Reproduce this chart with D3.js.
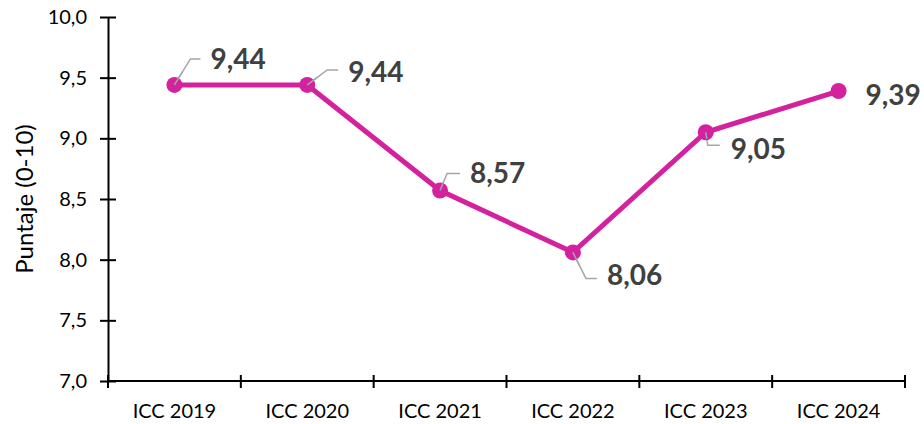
<!DOCTYPE html>
<html>
<head>
<meta charset="utf-8">
<script src="https://cdn.jsdelivr.net/npm/d3@7"></script>
<style>
  body { margin: 0; background: #fff; }
  svg { display: block; font-family: Lato, "Open Sans", sans-serif; }
</style>
</head>
<body>
<script>
var categories = ["ICC 2019", "ICC 2020", "ICC 2021", "ICC 2022", "ICC 2023", "ICC 2024"];
var values = [9.44, 9.44, 8.57, 8.06, 9.05, 9.39];
var yTicks = [7.0, 7.5, 8.0, 8.5, 9.0, 9.5, 10.0];

// label placement (dx, dy of text from point; leader elbow) - layout only
var labelPos = [
  { dx: 36, dy: -26, elbow: [16, -26], end: [26, -26] },
  { dx: 41, dy: -13, elbow: [20, -15], end: [31, -15] },
  { dx: 30, dy: -17, elbow: [7, -17], end: [20, -17] },
  { dx: 34, dy: 23, elbow: [13, 26], end: [24, 26] },
  { dx: 25, dy: 17, elbow: [2, 13], end: [14, 13] },
  { dx: 27, dy: 4, elbow: null, end: null }
];

var margin = { top: 17, right: 19, bottom: 43, left: 108 },
  width = 924 - margin.left - margin.right,
  height = 424 - margin.top - margin.bottom;

var svg = d3.select("body").append("svg")
  .attr("width", 924)
  .attr("height", 424)
  .append("g")
  .attr("transform", "translate(" + margin.left + "," + margin.top + ")");

var x = d3.scaleBand().domain(categories).range([0, width]);
var y = d3.scaleLinear().domain([7, 10]).range([height, 0]);

var fmt = function (v, n) { return v.toFixed(n).replace(".", ","); };

// y axis
var yAxis = svg.append("g")
  .call(d3.axisLeft(y).tickValues(yTicks).tickSizeInner(8).tickSizeOuter(0).tickPadding(13)
    .tickFormat(function (d) { return fmt(d, 1); }));
yAxis.select(".domain").attr("stroke", "#000").attr("stroke-width", 2);
yAxis.selectAll(".tick line").attr("x2", 8).attr("x1", -8).attr("stroke-width", 2);
yAxis.selectAll(".tick text").attr("font-size", 20).attr("fill", "#000")
  .attr("font-family", "Lato, sans-serif");

// x axis with ticks at category boundaries
var xg = svg.append("g").attr("transform", "translate(0," + height + ")");
xg.append("line").attr("x1", 0).attr("x2", width).attr("stroke", "#000").attr("stroke-width", 2);
var bounds = categories.map(function (c) { return x(c); }).concat([width]);
xg.selectAll(".xt").data(bounds).enter().append("line")
  .attr("x1", function (d) { return d; }).attr("x2", function (d) { return d; })
  .attr("y1", -6).attr("y2", 7).attr("stroke", "#000").attr("stroke-width", 2);
xg.selectAll(".xl").data(categories).enter().append("text")
  .attr("x", function (d) { return x(d) + x.bandwidth() / 2; })
  .attr("y", 37)
  .attr("text-anchor", "middle")
  .attr("font-size", 20)
  .attr("fill", "#000")
  .text(function (d) { return d; });

// y title
svg.append("text")
  .attr("transform", "translate(" + (33 - margin.left) + "," + (height / 2) + ") rotate(-90)")
  .attr("text-anchor", "middle")
  .attr("font-size", 24)
  .attr("fill", "#000")
  .text("Puntaje (0-10)");

var cx = function (i) { return x(categories[i]) + x.bandwidth() / 2; };

// leader lines
values.forEach(function (v, i) {
  var p = labelPos[i];
  if (!p.elbow) return;
  var px = cx(i), py = y(v);
  svg.append("polyline")
    .attr("points", [[px, py], [px + p.elbow[0], py + p.elbow[1]], [px + p.end[0], py + p.end[1]]].join(" "))
    .attr("fill", "none")
    .attr("stroke", "#a6a6a6")
    .attr("stroke-width", 1.5);
});

// line
var line = d3.line()
  .x(function (d, i) { return cx(i); })
  .y(function (d) { return y(d); });
svg.append("path")
  .datum(values)
  .attr("d", line)
  .attr("fill", "none")
  .attr("stroke", "#d4229f")
  .attr("stroke-width", 5);

svg.selectAll("circle").data(values).enter().append("circle")
  .attr("cx", function (d, i) { return cx(i); })
  .attr("cy", function (d) { return y(d); })
  .attr("r", 8)
  .attr("fill", "#d4229f");

// leader lines overlapping markers are drawn on top in the reference
values.forEach(function (v, i) {
  var p = labelPos[i];
  if (!p.elbow) return;
  var px = cx(i), py = y(v);
  svg.append("line")
    .attr("x1", px).attr("y1", py)
    .attr("x2", px + p.elbow[0] * 0.5).attr("y2", py + p.elbow[1] * 0.5)
    .attr("stroke", "#a6a6a6").attr("stroke-width", 1.5);
});

// data labels
svg.selectAll(".dl").data(values).enter().append("text")
  .attr("x", function (d, i) { return cx(i) + labelPos[i].dx; })
  .attr("y", function (d, i) { return y(d) + labelPos[i].dy; })
  .attr("dy", "0.35em")
  .attr("font-size", 28)
  .attr("font-weight", "bold")
  .attr("fill", "#404040")
  .text(function (d) { return fmt(d, 2); });
</script>
</body>
</html>
